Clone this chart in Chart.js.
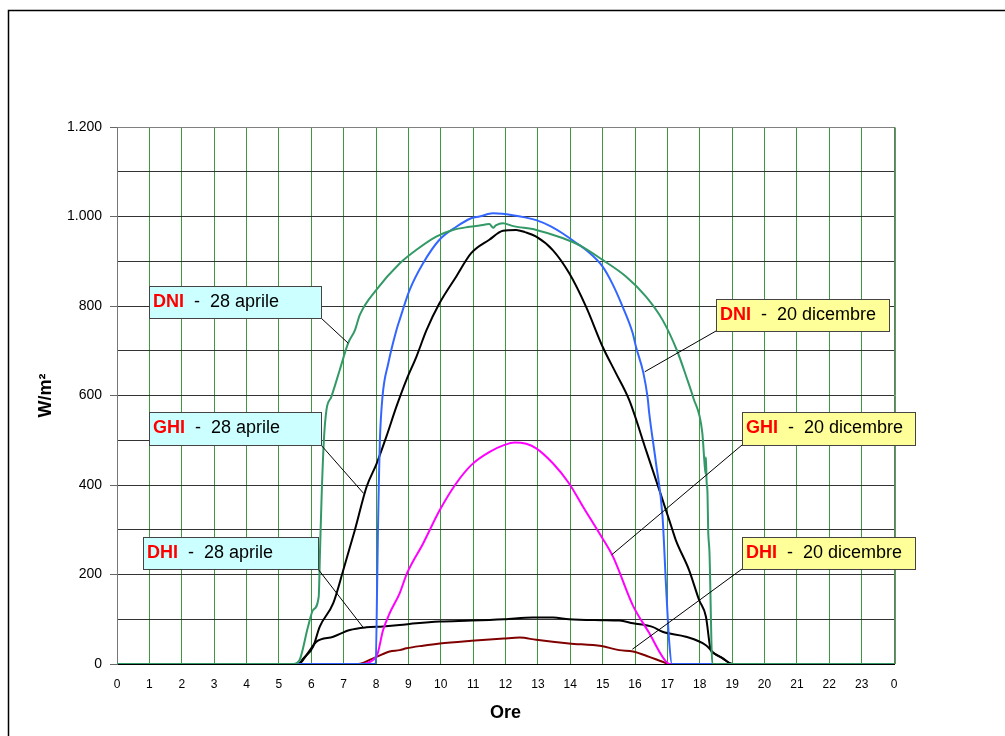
<!DOCTYPE html>
<html>
<head>
<meta charset="utf-8">
<script src="https://cdn.jsdelivr.net/npm/chart.js@4/dist/chart.umd.min.js"></script>
<style>
html, body { margin: 0; padding: 0; background: #fff; }
canvas { display: block; }
</style>
</head>
<body>
<canvas id="chart" width="1005" height="736"></canvas>
<script>
// ore (x) and W/m2 (y) for each series
const hDniApr = [0, 5.45, 5.64, 5.90, 6.06, 6.23, 6.27, 6.32, 6.39, 6.47, 6.62, 6.88, 7.14, 7.35, 7.5, 8.01, 8.73, 9.24, 9.86, 10.37, 10.89, 11.2, 11.5, 11.62, 11.7, 11.92, 12.21, 12.95, 13.76, 14.28, 15.0, 15.72, 16.34, 16.85, 17.3, 17.58, 17.8, 18.08, 18.14, 18.18, 18.19, 18.21, 18.24, 18.26, 18.3, 18.39, 24];
const vDniApr = [0, 0, 9, 83, 121, 150, 250, 374, 500, 568, 597, 657, 717, 746, 780, 836, 895, 925, 955, 970, 977, 980, 983, 975, 980, 985, 979, 970, 952, 936, 903, 866, 821, 769, 700, 643, 595, 516, 456, 425, 462, 410, 380, 300, 250, 0, 0];

const hDniDic = [0, 7.99, 8.04, 8.06, 8.09, 8.12, 8.2, 8.38, 8.63, 8.73, 9.04, 9.45, 9.96, 10.48, 10.94, 11.2, 11.61, 11.9, 12.22, 12.6, 12.95, 13.4, 13.77, 14.2, 14.49, 15.0, 15.3, 15.62, 15.93, 16.03, 16.26, 16.39, 16.44, 16.65, 16.85, 16.96, 17.06, 17.14, 24];
const vDniDic = [0, 0, 200, 300, 411, 500, 597, 672, 746, 769, 836, 895, 948, 977, 996, 1000, 1007, 1006, 1003, 998, 992, 978, 962, 940, 925, 888, 850, 798, 739, 709, 650, 595, 560, 448, 330, 173, 46, 0, 0];

const hGhiApr = [0, 5.6, 5.75, 6.06, 6.26, 6.68, 6.99, 7.35, 7.71, 8.02, 8.32, 8.63, 8.94, 9.25, 9.56, 9.96, 10.48, 10.94, 11.5, 11.92, 12.33, 12.6, 12.95, 13.46, 13.97, 14.49, 15.0, 15.41, 15.82, 16.34, 16.75, 17.16, 17.26, 17.67, 17.98, 18.19, 18.34, 18.44, 18.7, 19.01, 24];
const vGhiApr = [0, 0, 12, 39, 83, 136, 210, 300, 396, 448, 508, 575, 635, 687, 746, 806, 866, 918, 948, 968, 970, 965, 955, 925, 873, 798, 709, 650, 590, 478, 389, 299, 277, 210, 143, 106, 31, 24, 13, 0, 0];

const hGhiDic = [0, 7.44, 8.01, 8.22, 8.42, 8.73, 8.96, 9.46, 9.97, 10.48, 10.95, 11.51, 11.95, 12.28, 12.64, 12.95, 13.47, 13.96, 14.39, 14.90, 15.32, 15.94, 16.44, 16.85, 17.06, 24];
const vGhiDic = [0, 0, 16, 76, 113, 158, 203, 270, 344, 404, 445, 474, 489, 495, 492, 482, 448, 404, 352, 292, 240, 130, 69, 16, 0, 0];

const hDhiApr = [0, 5.6, 5.9, 6.16, 6.68, 7.19, 7.70, 8.22, 8.73, 9.24, 9.97, 10.95, 11.95, 12.85, 13.47, 13.96, 14.96, 15.52, 15.94, 16.54, 16.85, 17.57, 18.19, 18.44, 18.7, 19.01, 24];
const vDhiApr = [0, 0, 25, 50, 61, 76, 82, 84, 87, 91, 95, 97, 100, 104, 104, 100, 98, 97, 91, 83, 72, 61, 42, 24, 13, 0, 0];

const hDhiDic = [0, 7.44, 8.01, 8.42, 8.73, 8.94, 9.45, 9.97, 10.95, 11.95, 12.44, 12.95, 13.96, 14.96, 15.51, 15.94, 16.44, 16.85, 17.06, 24];
const vDhiDic = [0, 0, 16, 28, 31, 35, 41, 46, 52, 57, 59, 54, 46, 40, 31, 28, 16, 5, 0, 0];

const xTicks = [0, 1, 2, 3, 4, 5, 6, 7, 8, 9, 10, 11, 12, 13, 14, 15, 16, 17, 18, 19, 20, 21, 22, 23, 0];

const pts = (h, v) => h.map((x, i) => ({x: x, y: v[i]}));

const FONT = '"Liberation Sans", Arial, sans-serif';

// callouts: box in px, arrow target in data units
const notes = [
  {name: 'DNI', day: '28 aprile', x: 149, y: 286, w: 172, h: 32, fill: '#ccffff', tx: 7.14, ty: 717},
  {name: 'GHI', day: '28 aprile', x: 149, y: 412, w: 172, h: 33, fill: '#ccffff', tx: 7.62, ty: 381},
  {name: 'DHI', day: '28 aprile', x: 143, y: 537, w: 175, h: 32, fill: '#ccffff', tx: 7.60, ty: 82},
  {name: 'DNI', day: '20 dicembre', x: 716, y: 299, w: 173, h: 32, fill: '#ffff99', tx: 16.30, ty: 653},
  {name: 'GHI', day: '20 dicembre', x: 742, y: 412, w: 173, h: 33, fill: '#ffff99', tx: 15.28, ty: 244},
  {name: 'DHI', day: '20 dicembre', x: 742, y: 537, w: 173, h: 32, fill: '#ffff99', tx: 15.92, ty: 33}
];

const decor = {
  id: 'decor',
  beforeDraw(chart) {
    const ctx = chart.ctx;
    ctx.save();
    ctx.fillStyle = '#fff';
    ctx.fillRect(0, 0, chart.width, chart.height);
    ctx.strokeStyle = '#000';
    ctx.lineWidth = 1.5;
    ctx.strokeRect(8.5, 10.5, 1200, 900);
    ctx.restore();
  },
  afterDraw(chart) {
    const ctx = chart.ctx;
    const a = chart.chartArea;
    const sx = chart.scales.x, sy = chart.scales.y;
    ctx.save();
    ctx.strokeStyle = '#808080';
    ctx.lineWidth = 1;
    ctx.beginPath();
    ctx.moveTo(a.right + 1.5, a.top + 0.5);
    ctx.lineTo(a.right + 1.5, a.bottom);
    ctx.stroke();

    notes.forEach(n => {
      const px = sx.getPixelForValue(n.tx);
      const py = sy.getPixelForValue(n.ty);
      const cx = n.x < px ? n.x + n.w : n.x;
      ctx.strokeStyle = '#000';
      ctx.lineWidth = 1;
      ctx.beginPath();
      ctx.moveTo(cx, n.y + n.h);
      ctx.lineTo(px, py);
      ctx.stroke();

      ctx.fillStyle = n.fill;
      ctx.fillRect(n.x, n.y, n.w, n.h);
      ctx.strokeStyle = '#444';
      ctx.strokeRect(n.x + 0.5, n.y + 0.5, n.w, n.h);

      ctx.textBaseline = 'alphabetic';
      ctx.textAlign = 'left';
      ctx.font = 'bold 18px ' + FONT;
      ctx.fillStyle = '#ff0000';
      ctx.fillText(n.name, n.x + 4, n.y + 21);
      const w = ctx.measureText(n.name).width;
      ctx.font = '18px ' + FONT;
      ctx.fillStyle = '#000';
      ctx.fillText('  -  ' + n.day, n.x + 4 + w, n.y + 21);
    });
    ctx.restore();
  }
};

const line = (label, h, v, color) => ({
  label: label,
  data: pts(h, v),
  borderColor: color,
  borderWidth: 2,
  pointRadius: 0,
  cubicInterpolationMode: 'monotone',
  fill: false
});

function fmtY(v) {
  if (v % 200 !== 0) return '';
  if (v >= 1000) return Math.floor(v / 1000) + '.' + String(v % 1000).padStart(3, '0');
  return String(v);
}

new Chart(document.getElementById('chart').getContext('2d'), {
  type: 'line',
  data: {
    datasets: [
      line('DNI 28 aprile', hDniApr, vDniApr, '#339966'),
      line('DNI 20 dicembre', hDniDic, vDniDic, '#3366ff'),
      line('GHI 28 aprile', hGhiApr, vGhiApr, '#000000'),
      line('GHI 20 dicembre', hGhiDic, vGhiDic, '#ff00ff'),
      line('DHI 28 aprile', hDhiApr, vDhiApr, '#000000'),
      line('DHI 20 dicembre', hDhiDic, vDhiDic, '#800000')
    ]
  },
  options: {
    responsive: false,
    animation: false,
    devicePixelRatio: 1,
    layout: {
      padding: {left: 10, top: 127, right: 111, bottom: 0}
    },
    plugins: {
      legend: {display: false},
      tooltip: {enabled: false}
    },
    scales: {
      x: {
        type: 'linear',
        min: 0,
        max: 24,
        afterFit: s => { s.height = 72; },
        afterBuildTicks: s => { s.ticks = xTicks.map((t, i) => ({value: i})); },
        ticks: {
          stepSize: 1,
          autoSkip: false,
          maxRotation: 0,
          padding: 13,
          color: '#000',
          font: {family: FONT, size: 12},
          callback: (v, i) => String(xTicks[i])
        },
        grid: {
          color: '#3c9a3c',
          lineWidth: 1,
          drawTicks: false
        },
        border: {color: '#000', width: 1},
        title: {
          display: true,
          text: 'Ore',
          color: '#000',
          font: {family: FONT, size: 18, weight: 'bold'},
          padding: {top: 0, bottom: 12}
        }
      },
      y: {
        min: 0,
        max: 1200,
        afterFit: s => { s.width = 107; },
        ticks: {
          stepSize: 100,
          autoSkip: false,
          padding: 8,
          color: '#000',
          font: {family: FONT, size: 14},
          callback: v => fmtY(v)
        },
        grid: {
          color: ctx => ctx.tick && ctx.tick.value === 1200 ? '#808080' : '#333333',
          lineWidth: 1,
          tickLength: 7,
          tickColor: ctx => ctx.tick && ctx.tick.value % 200 === 0 ? '#666666' : 'rgba(0,0,0,0)'
        },
        border: {color: '#777777', width: 1},
        title: {
          display: true,
          text: 'W/m²',
          color: '#000',
          font: {family: FONT, size: 18, weight: 'bold'},
          padding: {top: 25, bottom: 0}
        }
      }
    }
  },
  plugins: [decor]
});
</script>
</body>
</html>
